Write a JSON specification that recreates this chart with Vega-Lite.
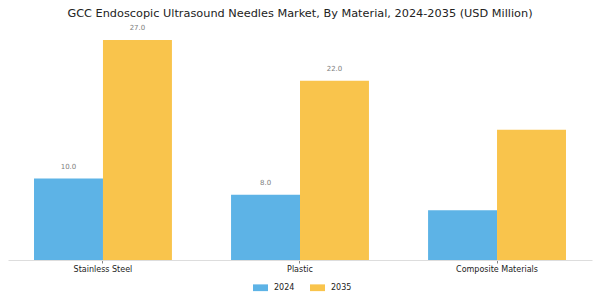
{
  "$schema": "https://vega.github.io/schema/vega-lite/v6.json",
  "autosize": "none",
  "width": 584,
  "height": 220,
  "padding": {"left": 8, "right": 8, "top": 40, "bottom": 40},
  "background": "white",
  "title": {
    "text": "GCC Endoscopic Ultrasound Needles Market, By Material, 2024-2035 (USD Million)",
    "fontSize": 11.3,
    "font": "DejaVu Sans",
    "fontWeight": "normal",
    "color": "#222222",
    "anchor": "middle",
    "offset": 5
  },
  "data": {
    "values": [
      {"material": "Stainless Steel", "year": "2024", "value": 10.0, "label": "10.0"},
      {"material": "Stainless Steel", "year": "2035", "value": 27.0, "label": "27.0"},
      {"material": "Plastic", "year": "2024", "value": 8.0, "label": "8.0"},
      {"material": "Plastic", "year": "2035", "value": 22.0, "label": "22.0"},
      {"material": "Composite Materials", "year": "2024", "value": 6.1, "label": null},
      {"material": "Composite Materials", "year": "2035", "value": 16.0, "label": null}
    ]
  },
  "encoding": {
    "x": {
      "field": "material",
      "type": "nominal",
      "sort": ["Stainless Steel", "Plastic", "Composite Materials"],
      "scale": {"paddingInner": 0.3, "paddingOuter": 0.132},
      "axis": {
        "title": null,
        "labelAngle": 0,
        "labelFont": "DejaVu Sans",
        "labelFontSize": 8,
        "labelColor": "#222222",
        "domainColor": "#dddddd",
        "tickColor": "#888888",
        "tickSize": 3,
        "labelPadding": 2
      }
    },
    "xOffset": {"field": "year", "type": "nominal"},
    "y": {
      "field": "value",
      "type": "quantitative",
      "scale": {"domain": [0, 27], "nice": false},
      "axis": null
    }
  },
  "layer": [
    {
      "mark": {"type": "bar"},
      "encoding": {
        "color": {
          "field": "year",
          "type": "nominal",
          "scale": {"domain": ["2024", "2035"], "range": ["#5DB3E6", "#F9C44C"]},
          "legend": {
            "orient": "none",
            "legendX": 244,
            "legendY": 239,
            "direction": "horizontal",
            "title": null,
            "symbolType": "M-1,-0.45H1V0.45H-1Z",
            "symbolSize": 225,
            "labelFont": "DejaVu Sans",
            "labelFontSize": 8,
            "labelColor": "#222222",
            "labelOffset": 5,
            "columnPadding": 14
          }
        }
      }
    },
    {
      "transform": [{"filter": "datum.label != null"}],
      "mark": {"type": "text", "dy": -12, "fontSize": 7, "font": "DejaVu Sans", "color": "#808080"},
      "encoding": {
        "text": {"field": "label"}
      }
    }
  ],
  "config": {"view": {"stroke": null}}
}
